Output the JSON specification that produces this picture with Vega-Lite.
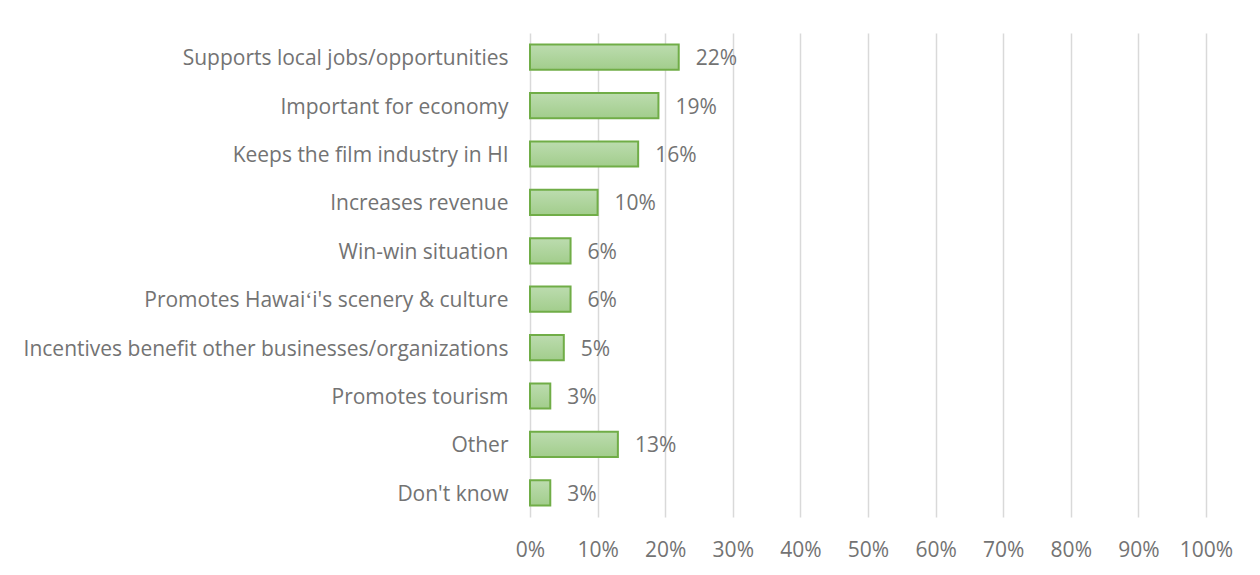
{
  "$schema": "https://vega.github.io/schema/vega-lite/v6.json",
  "width": 676,
  "height": 484,
  "autosize": {"type": "none"},
  "padding": {"left": 530, "top": 33, "right": 54, "bottom": 58},
  "background": "white",
  "config": {
    "view": {"stroke": null},
    "font": "Open Sans",
    "axis": {"labelFont": "Open Sans", "labelColor": "#737373", "labelFontSize": 21}
  },
  "data": {
    "values": [
      {"reason": "Supports local jobs/opportunities", "pct": 0.22},
      {"reason": "Important for economy", "pct": 0.19},
      {"reason": "Keeps the film industry in HI", "pct": 0.16},
      {"reason": "Increases revenue", "pct": 0.10},
      {"reason": "Win-win situation", "pct": 0.06},
      {"reason": "Promotes Hawaiʻi's scenery & culture", "pct": 0.06},
      {"reason": "Incentives benefit other businesses/organizations", "pct": 0.05},
      {"reason": "Promotes tourism", "pct": 0.03},
      {"reason": "Other", "pct": 0.13},
      {"reason": "Don't know", "pct": 0.03}
    ]
  },
  "encoding": {
    "y": {
      "field": "reason",
      "type": "nominal",
      "sort": null,
      "title": null,
      "scale": {"paddingInner": 0.48, "paddingOuter": 0.24},
      "axis": {"ticks": false, "domain": false, "labelPadding": 22, "labelOffset": 2, "labelLimit": 600}
    },
    "x": {
      "field": "pct",
      "type": "quantitative",
      "title": null,
      "scale": {"domain": [0, 1], "nice": false},
      "axis": {
        "format": ".0%",
        "values": [0, 0.1, 0.2, 0.3, 0.4, 0.5, 0.6, 0.7, 0.8, 0.9, 1],
        "ticks": false,
        "domain": false,
        "grid": true,
        "gridColor": "#d9d9d9",
        "gridWidth": 1.5,
        "labelFlush": false,
        "labelPadding": 22
      }
    }
  },
  "layer": [
    {
      "mark": {
        "type": "bar",
        "stroke": "#70ad47",
        "strokeWidth": 2,
        "fill": {
          "gradient": "linear",
          "x1": 0, "y1": 0, "x2": 0, "y2": 1,
          "stops": [
            {"offset": 0, "color": "#bcdcaf"},
            {"offset": 1, "color": "#a2cd8c"}
          ]
        }
      }
    },
    {
      "mark": {"type": "text", "align": "left", "baseline": "middle", "dx": 17, "dy": 2, "fontSize": 21, "color": "#737373", "font": "Open Sans"},
      "encoding": {"text": {"field": "pct", "type": "quantitative", "format": ".0%"}}
    }
  ]
}
